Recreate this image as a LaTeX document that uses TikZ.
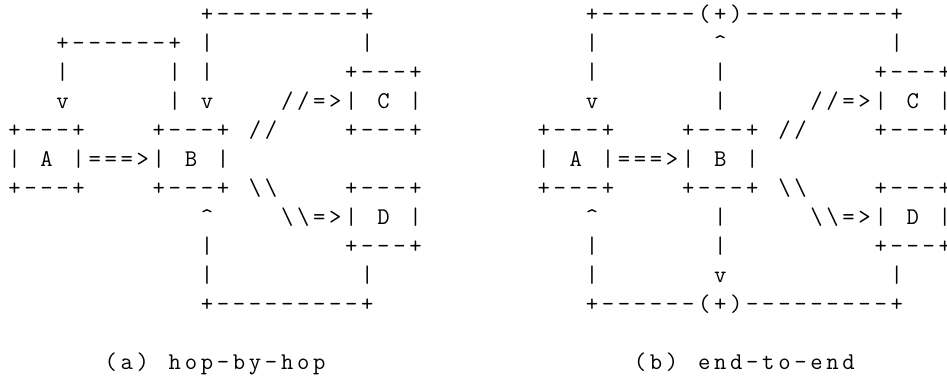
\documentclass[tikz,border=0pt]{standalone}
\usetikzlibrary{positioning}

% Character cell of the monospaced grid (1pt = one pixel of the figure)
\newlength\artcell
\setlength\artcell{16.04pt}
\newcommand\artfont{\ttfamily\fontsize{24pt}{29pt}\selectfont}

% Set a string one character per fixed-width cell
\ExplSyntaxOn
\cs_new_protected:Npn \artline #1
  { \str_map_inline:nn { #1 } { \makebox [ \artcell ] [ c ] { ##1 } } }
\ExplSyntaxOff

\tikzset{
  art/.style={anchor=base west, inner sep=0pt, outer sep=0pt, font=\artfont},
}

% \artchunk{name}{column}{row}{text}
\newcommand\artchunk[4]{%
  \node[art] (#1) at ({6.5pt+#2*\artcell},{-21.5pt-#3*29pt}) {\artline{#4}};}

\begin{document}
\begin{tikzpicture}
\useasboundingbox (0pt,0pt) rectangle (947pt,-382pt);

% ---------- (a) hop-by-hop ----------
\artchunk{aTop}{12}{0}{+---------+}
\artchunk{aLoopA}{3}{1}{+------+}
\artchunk{aP1}{12}{1}{|}
\artchunk{aP2}{22}{1}{|}
\artchunk{aP3}{3}{2}{|}
\artchunk{aP4}{10}{2}{|}
\artchunk{aP5}{12}{2}{|}
\artchunk{aCtop}{21}{2}{+---+}
\artchunk{aVa}{3}{3}{v}
\artchunk{aP6}{10}{3}{|}
\artchunk{aVb}{12}{3}{v}
\artchunk{aC}{17}{3}{//=>| C |}
\artchunk{aAtop}{0}{4}{+---+}
\artchunk{aBtop}{9}{4}{+---+ //}
\artchunk{aCbot}{21}{4}{+---+}
\artchunk{aAB}{0}{5}{| A |===>| B |}
\artchunk{aAbot}{0}{6}{+---+}
\artchunk{aBbot}{9}{6}{+---+ \\}
\artchunk{aDtop}{21}{6}{+---+}
\artchunk{aUp}{12}{7}{^}
\artchunk{aD}{17}{7}{\\=>| D |}
\artchunk{aP7}{12}{8}{|}
\artchunk{aDbot}{21}{8}{+---+}
\artchunk{aP8}{12}{9}{|}
\artchunk{aP9}{22}{9}{|}
\artchunk{aBot}{12}{10}{+---------+}
\artchunk{aCap}{6}{12}{(a) hop-by-hop}

% ---------- (b) end-to-end ----------
\artchunk{bTop}{36}{0}{+------(+)---------+}
\artchunk{bP1}{36}{1}{|}
\artchunk{bUp1}{44}{1}{^}
\artchunk{bP2}{55}{1}{|}
\artchunk{bP3}{36}{2}{|}
\artchunk{bP4}{44}{2}{|}
\artchunk{bCtop}{54}{2}{+---+}
\artchunk{bVa}{36}{3}{v}
\artchunk{bP5}{44}{3}{|}
\artchunk{bC}{50}{3}{//=>| C |}
\artchunk{bAtop}{33}{4}{+---+}
\artchunk{bBtop}{42}{4}{+---+ //}
\artchunk{bCbot}{54}{4}{+---+}
\artchunk{bAB}{33}{5}{| A |===>| B |}
\artchunk{bAbot}{33}{6}{+---+}
\artchunk{bBbot}{42}{6}{+---+ \\}
\artchunk{bDtop}{54}{6}{+---+}
\artchunk{bUp2}{36}{7}{^}
\artchunk{bP6}{44}{7}{|}
\artchunk{bD}{50}{7}{\\=>| D |}
\artchunk{bP7}{36}{8}{|}
\artchunk{bP8}{44}{8}{|}
\artchunk{bDbot}{54}{8}{+---+}
\artchunk{bP9}{36}{9}{|}
\artchunk{bVb}{44}{9}{v}
\artchunk{bP10}{55}{9}{|}
\artchunk{bBot}{36}{10}{+------(+)---------+}
\artchunk{bCap}{39}{12}{(b) end-to-end}
\end{tikzpicture}
\end{document}
